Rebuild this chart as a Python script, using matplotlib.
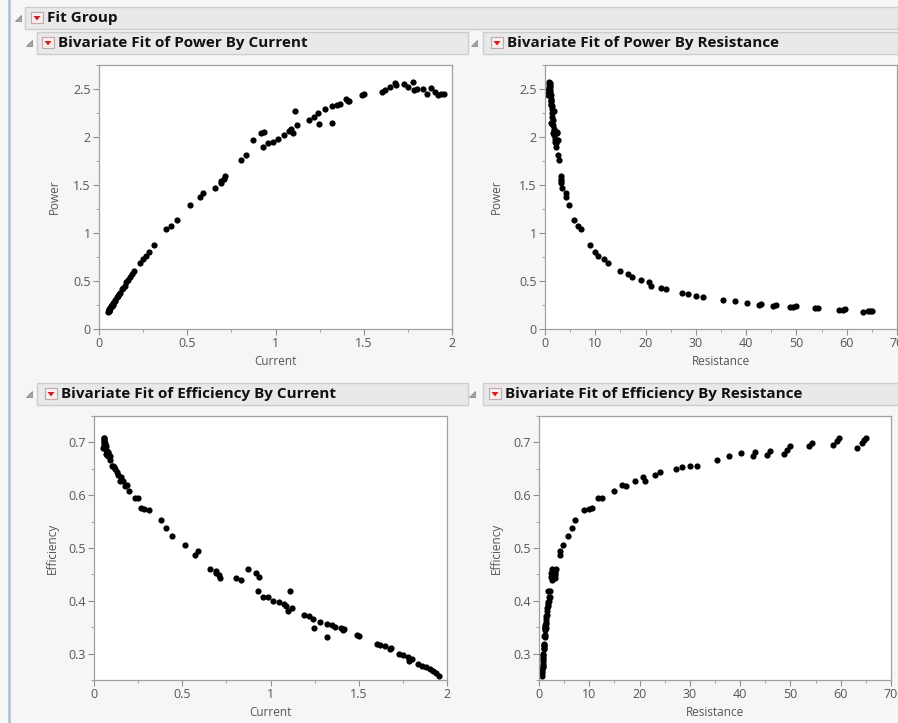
import matplotlib
matplotlib.use("Agg")
import matplotlib.pyplot as plt
from matplotlib.patches import Rectangle, Polygon
from matplotlib.ticker import MultipleLocator, FormatStrFormatter

current = [0.054, 0.054, 0.054, 0.053, 0.059, 0.058, 0.058, 0.064, 0.063, 0.069,
           0.068, 0.069, 0.073, 0.073, 0.078, 0.077, 0.082, 0.088, 0.093, 0.102,
           0.107, 0.112, 0.117, 0.132, 0.137, 0.146, 0.154, 0.163, 0.176, 0.186,
           0.200, 0.235, 0.249, 0.268, 0.283, 0.313, 0.380, 0.406, 0.443, 0.518,
           0.571, 0.588, 0.657, 0.689, 0.709, 0.716, 0.694, 0.807, 0.834, 0.870,
           0.920, 0.934, 0.930, 0.960, 0.987, 1.015, 1.050, 1.076, 1.090, 1.100,
           1.110, 1.120, 1.190, 1.218, 1.240, 1.245, 1.279, 1.322, 1.320, 1.350,
           1.368, 1.400, 1.410, 1.414, 1.490, 1.500, 1.604, 1.620, 1.646, 1.680,
           1.677, 1.730, 1.750, 1.780, 1.787, 1.800, 1.838, 1.857, 1.880, 1.906,
           1.920, 1.940, 1.955]
resistance = [65.1, 64.7, 64.2, 63.2, 59.6, 59.2, 58.5, 54.2, 53.7, 50.0,
              49.3, 48.8, 46.0, 45.4, 43.0, 42.5, 40.2, 37.7, 35.3, 31.5,
              30.0, 28.5, 27.2, 24.0, 23.0, 21.0, 20.7, 19.1, 17.4, 16.5,
              15.0, 12.5, 11.8, 10.6, 10.0, 9.0, 7.2, 6.5, 5.8, 4.8,
              4.2, 4.1, 3.4, 3.2, 3.1, 3.1, 3.2, 2.7, 2.6, 2.6,
              2.4, 2.35, 2.2, 2.1, 2.0, 1.92, 1.83, 1.78, 1.75, 1.68,
              1.84, 1.69, 1.54, 1.49, 1.46, 1.38, 1.40, 1.23, 1.33, 1.28,
              1.25, 1.22, 1.19, 1.19, 1.10, 1.09, 0.96, 0.95, 0.93, 0.90,
              0.91, 0.85, 0.82, 0.81, 0.78, 0.77, 0.74, 0.71, 0.71, 0.68,
              0.66, 0.65, 0.64]
power = [0.19, 0.19, 0.185, 0.18, 0.205, 0.20, 0.20, 0.22, 0.215, 0.235,
         0.23, 0.23, 0.245, 0.24, 0.26, 0.255, 0.27, 0.29, 0.305, 0.33,
         0.345, 0.36, 0.37, 0.42, 0.43, 0.45, 0.49, 0.51, 0.54, 0.57,
         0.60, 0.69, 0.73, 0.76, 0.80, 0.88, 1.04, 1.07, 1.14, 1.29,
         1.37, 1.42, 1.47, 1.52, 1.56, 1.59, 1.54, 1.76, 1.81, 1.97,
         2.04, 2.05, 1.90, 1.94, 1.95, 1.98, 2.02, 2.06, 2.08, 2.04,
         2.27, 2.12, 2.18, 2.21, 2.25, 2.14, 2.29, 2.15, 2.32, 2.33,
         2.34, 2.40, 2.37, 2.38, 2.44, 2.45, 2.47, 2.49, 2.52, 2.54,
         2.56, 2.55, 2.52, 2.57, 2.49, 2.50, 2.50, 2.45, 2.51, 2.47,
         2.44, 2.45, 2.45]
efficiency = [0.709, 0.704, 0.699, 0.690, 0.709, 0.703, 0.696, 0.698, 0.693, 0.693,
              0.685, 0.678, 0.684, 0.676, 0.682, 0.674, 0.679, 0.674, 0.667, 0.655,
              0.655, 0.653, 0.649, 0.643, 0.638, 0.626, 0.635, 0.626, 0.617, 0.619,
              0.608, 0.594, 0.594, 0.575, 0.573, 0.572, 0.553, 0.537, 0.523, 0.506,
              0.486, 0.495, 0.461, 0.456, 0.449, 0.443, 0.452, 0.443, 0.440, 0.461,
              0.453, 0.446, 0.418, 0.408, 0.408, 0.399, 0.397, 0.394, 0.390, 0.380,
              0.418, 0.386, 0.374, 0.371, 0.366, 0.348, 0.360, 0.331, 0.357, 0.354,
              0.351, 0.349, 0.345, 0.347, 0.336, 0.334, 0.318, 0.316, 0.314, 0.310,
              0.309, 0.300, 0.298, 0.294, 0.286, 0.289, 0.281, 0.276, 0.275, 0.271,
              0.267, 0.263, 0.258]

W, H = 898, 723
FONT = "Open Sans"
plt.rcParams["font.family"] = [FONT, "DejaVu Sans"]

fig = plt.figure(figsize=(W / 100, H / 100), dpi=100, facecolor="#f6f6f6")

# overlay in pixel coordinates for the JMP outline headers
ov = fig.add_axes([0, 0, 1, 1], zorder=0)
ov.set_xlim(0, W)
ov.set_ylim(H, 0)
ov.axis("off")

ov.plot([9, 9], [0, H], color="#b3c3d3", lw=2)


def header(x0, x1, y0, y1, tri_x, text_x, label):
    yc = (y0 + y1) / 2
    ov.add_patch(Rectangle((x0, y0), x1 - x0, y1 - y0, facecolor="#e9e9e9",
                           edgecolor="#cdcdcd", lw=1))
    ov.add_patch(Polygon([(tri_x + 3, yc - 3), (tri_x + 3, yc + 3), (tri_x - 3, yc + 3)],
                         closed=True, facecolor="#a6a6a6", edgecolor="#8c8c8c", lw=0.6))
    ix = text_x - 16
    ov.add_patch(Rectangle((ix, yc - 6), 12, 11, facecolor="#f7eeee",
                           edgecolor="#c4a8a8", lw=0.8))
    ov.add_patch(Polygon([(ix + 2.5, yc - 2), (ix + 9.5, yc - 2), (ix + 6, yc + 2.5)],
                         closed=True, facecolor="#d42020", edgecolor="none"))
    ov.text(text_x, yc, label, fontsize=11, fontweight="bold", color="#111111",
            ha="left", va="center")


header(25, 898, 7, 29, 18, 47, "Fit Group")
header(37, 468, 32, 54, 29, 58, "Bivariate Fit of Power By Current")
header(483, 898, 32, 54, 474, 507, "Bivariate Fit of Power By Resistance")
header(37, 468, 383, 405, 29, 61, "Bivariate Fit of Efficiency By Current")
header(483, 898, 383, 405, 472, 505, "Bivariate Fit of Efficiency By Resistance")


def panel(left, top, right, bottom):
    return fig.add_axes([left / W, 1 - bottom / H, (right - left) / W, (bottom - top) / H],
                        zorder=1)


def style(ax, xs, ys, xlim, ylim, xmaj, ymaj, xlabel, ylabel, ylab_px):
    ax.scatter(xs, ys, s=20, color="black", linewidths=0)
    ax.set_xlim(*xlim)
    ax.set_ylim(*ylim)
    ax.set_facecolor("white")
    ax.xaxis.set_major_locator(MultipleLocator(xmaj))
    ax.xaxis.set_minor_locator(MultipleLocator(xmaj / 2))
    ax.yaxis.set_major_locator(MultipleLocator(ymaj))
    ax.yaxis.set_minor_locator(MultipleLocator(ymaj / 2))
    ax.xaxis.set_major_formatter(FormatStrFormatter("%g"))
    ax.yaxis.set_major_formatter(FormatStrFormatter("%g"))
    for s in ax.spines.values():
        s.set_color("#a0a0a0")
        s.set_linewidth(0.9)
    ax.tick_params(which="major", length=4, width=0.8, color="#909090",
                   labelsize=9, labelcolor="#555555", pad=2)
    ax.tick_params(which="minor", length=2.5, width=0.7, color="#a0a0a0")
    ax.set_xlabel(xlabel, fontsize=8.5, color="#555555")
    ax.set_ylabel(ylabel, fontsize=8.5, color="#555555")
    w = ax.get_position().width * W
    h = ax.get_position().height * H
    ax.xaxis.set_label_coords(0.5, -26 / h)
    ax.yaxis.set_label_coords(-ylab_px / w, 0.5)


ax1 = panel(99, 65, 452, 329)
style(ax1, current, power, (0, 2), (0, 2.75), 0.5, 0.5, "Current", "Power", 38)

ax2 = panel(545, 65, 897, 329)
style(ax2, resistance, power, (0, 70), (0, 2.75), 10, 0.5, "Resistance", "Power", 42)

ax3 = panel(94, 416, 447, 680)
style(ax3, current, efficiency, (0, 2), (0.25, 0.75), 0.5, 0.1, "Current", "Efficiency", 35)

ax4 = panel(539, 416, 891, 680)
style(ax4, resistance, efficiency, (0, 70), (0.25, 0.75), 10, 0.1, "Resistance", "Efficiency", 36)

fig.savefig("out.png", dpi=100, facecolor=fig.get_facecolor())
